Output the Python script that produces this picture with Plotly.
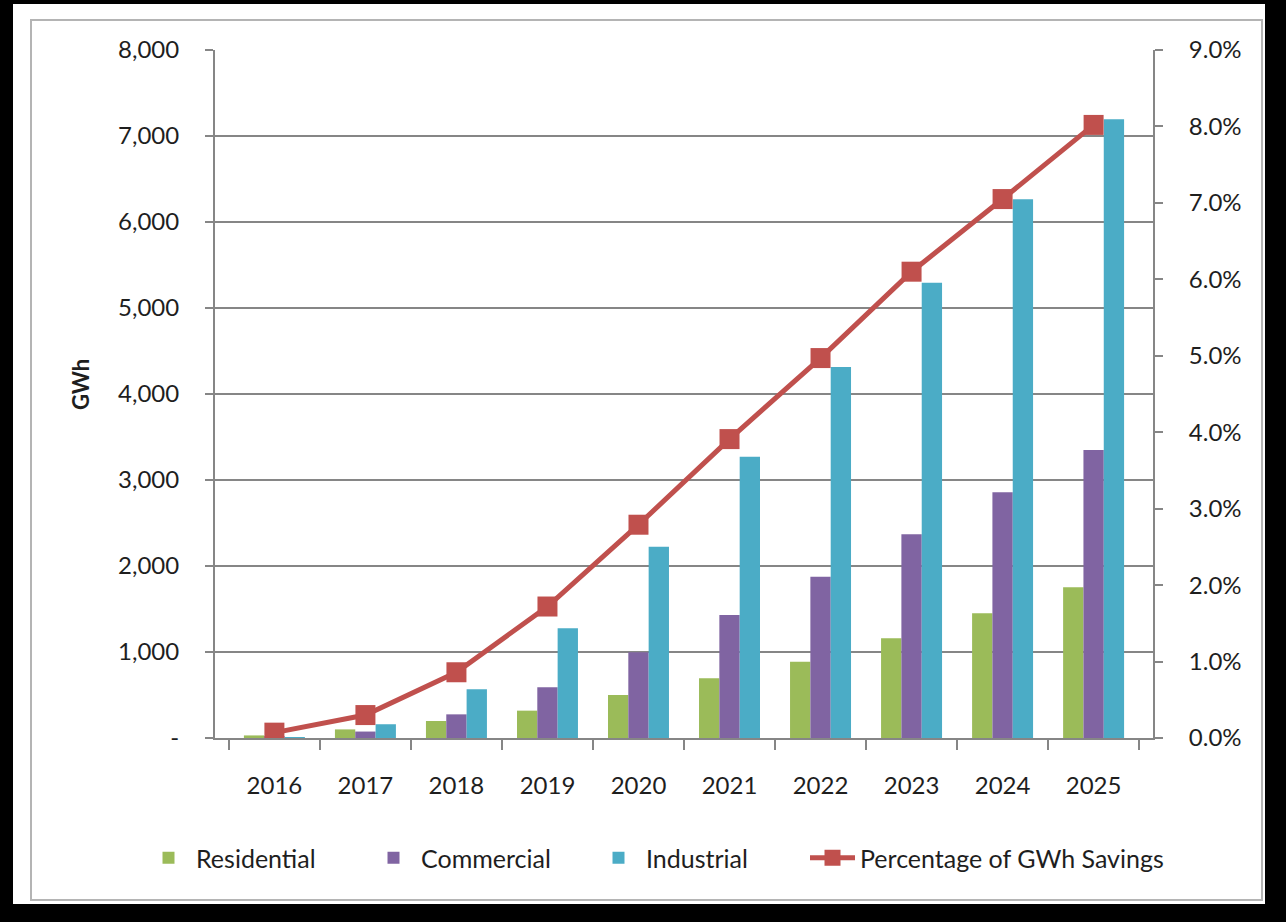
import plotly.graph_objects as go

years = ["2016", "2017", "2018", "2019", "2020", "2021", "2022", "2023", "2024", "2025"]
residential = [30, 100, 198, 318, 500, 694, 887, 1160, 1450, 1752]
commercial = [15, 75, 275, 589, 997, 1430, 1876, 2368, 2857, 3349]
industrial = [10, 160, 566, 1275, 2224, 3271, 4314, 5294, 6264, 7194]
pct_savings = [0.0007, 0.0030, 0.0086, 0.0172, 0.0279, 0.0391, 0.0497, 0.0610, 0.0705, 0.0802]

left_tickvals = [0, 1000, 2000, 3000, 4000, 5000, 6000, 7000, 8000]
left_ticktext = ["-", "1,000", "2,000", "3,000", "4,000", "5,000", "6,000", "7,000", "8,000"]
right_tickvals = [0, 0.01, 0.02, 0.03, 0.04, 0.05, 0.06, 0.07, 0.08, 0.09]

GREEN = "#9BBB59"
PURPLE = "#8064A2"
CYAN = "#4BACC6"
RED = "#C0504D"
AXIS = "#868686"
TXT = "#1e1e1e"
FONT = "Lato"

W, H = 1286, 922
L, R, T, B = 215, 133, 50, 184
PW, PH = W - L - R, H - T - B


def px_x(p):
    return (p - L) / PW


def px_y(p):
    return (H - B - p) / PH


fig = go.Figure()
fig.add_trace(go.Bar(x=years, y=residential, name="Residential", marker_color=GREEN, marker_line_width=0))
fig.add_trace(go.Bar(x=years, y=commercial, name="Commercial", marker_color=PURPLE, marker_line_width=0))
fig.add_trace(go.Bar(x=years, y=industrial, name="Industrial", marker_color=CYAN, marker_line_width=0))
fig.add_trace(go.Scatter(x=years, y=pct_savings, name="Percentage of GWh Savings", yaxis="y2",
                         mode="lines+markers", line=dict(color=RED, width=5),
                         marker=dict(symbol="square", size=20, color=RED), legend="legend2"))

shapes = [
    dict(type="rect", xref="paper", yref="paper", x0=px_x(13), x1=px_x(1265), y0=px_y(904), y1=px_y(4),
         fillcolor="white", line=dict(width=0), layer="below"),
    dict(type="rect", xref="paper", yref="paper", x0=px_x(31), x1=px_x(1262), y0=px_y(900), y1=px_y(20),
         fillcolor="rgba(0,0,0,0)", line=dict(color="#b4b4b4", width=2), layer="below"),
]

legend_common = dict(orientation="h", xanchor="left", y=px_y(858), yanchor="middle",
                     font=dict(family=FONT, size=25, color=TXT), bgcolor="rgba(0,0,0,0)",
                     traceorder="normal", itemwidth=45)

fig.update_layout(
    width=W, height=H,
    margin=dict(l=L, r=R, t=T, b=B, autoexpand=False),
    paper_bgcolor="black",
    plot_bgcolor="rgba(0,0,0,0)",
    font=dict(family=FONT, size=24, color=TXT),
    barmode="group", bargap=0.33, bargroupgap=0,
    shapes=shapes,
    showlegend=True,
    legend=dict(x=px_x(141), entrywidth=165, entrywidthmode="pixels", **legend_common),
    legend2=dict(x=px_x(805), **legend_common),
    xaxis=dict(type="category", showline=True, linecolor=AXIS, linewidth=2,
               ticks="outside", ticklen=10, tickcolor=AXIS, tickwidth=2, tickson="boundaries",
               ticklabelstandoff=25, showgrid=False, tickfont=dict(size=24, color=TXT)),
    yaxis=dict(range=[0, 8000], tickvals=left_tickvals, ticktext=left_ticktext,
               showline=True, linecolor=AXIS, linewidth=2, ticks="outside", ticklen=8,
               tickcolor=AXIS, tickwidth=2, showgrid=True, gridcolor=AXIS, gridwidth=2,
               zeroline=False, ticklabelstandoff=21, tickfont=dict(size=24, color=TXT)),
    yaxis2=dict(range=[0, 0.09], tickvals=right_tickvals, tickformat=".1%", overlaying="y",
                side="right", showline=True, linecolor=AXIS, linewidth=2, ticks="outside",
                ticklen=8, tickcolor=AXIS, tickwidth=2, showgrid=False, zeroline=False,
                ticklabelstandoff=21, tickfont=dict(size=24, color=TXT)),
    annotations=[dict(text="<b>GWh</b>", xref="paper", yref="paper", x=px_x(80), y=px_y(385),
                      textangle=-90, showarrow=False, font=dict(family=FONT, size=22, color=TXT),
                      xanchor="center", yanchor="middle")],
)

fig.write_html("out.html")
